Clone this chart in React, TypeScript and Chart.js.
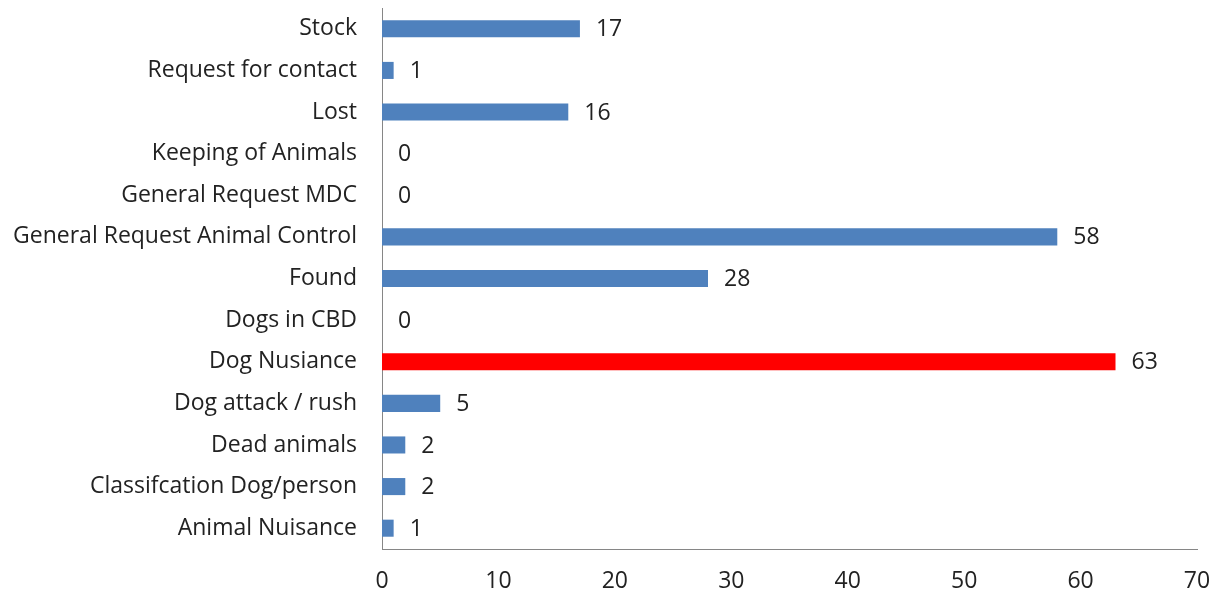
import React, { useEffect, useRef } from "react";
import { Chart, registerables } from "chart.js";

Chart.register(...registerables);

const categories = [
  "Stock",
  "Request for contact",
  "Lost",
  "Keeping of Animals",
  "General Request MDC",
  "General Request Animal Control",
  "Found",
  "Dogs in CBD",
  "Dog Nusiance",
  "Dog attack / rush",
  "Dead animals",
  "Classifcation Dog/person",
  "Animal Nuisance",
];
const values = [17, 1, 16, 0, 0, 58, 28, 0, 63, 5, 2, 2, 1];
const highlightCategory = "Dog Nusiance";
const xTicks = [0, 10, 20, 30, 40, 50, 60, 70];

const BLUE = "#4F81BD";
const RED = "#FF0000";
const FONT = "'Open Sans', sans-serif";
const FSIZE = 23;

const valueLabels = {
  id: "valueLabels",
  afterDatasetsDraw(chart: any) {
    const ctx = chart.ctx;
    const meta = chart.getDatasetMeta(0);
    ctx.save();
    ctx.font = `${FSIZE}px ${FONT}`;
    ctx.fillStyle = "#222";
    ctx.textAlign = "left";
    ctx.textBaseline = "middle";
    meta.data.forEach((bar: any, i: number) => {
      ctx.fillText(String(values[i]), bar.x + 16, bar.y + 1);
    });
    ctx.restore();
  },
};

export default function App() {
  const ref = useRef<HTMLCanvasElement>(null);
  useEffect(() => {
    if (!ref.current) return;
    const chart = new Chart(ref.current, {
      type: "bar",
      data: {
        labels: categories,
        datasets: [
          {
            data: values,
            backgroundColor: categories.map((c) => (c === highlightCategory ? RED : BLUE)),
            barPercentage: 0.82,
            categoryPercentage: 0.5,
          },
        ],
      },
      options: {
        indexAxis: "y",
        animation: false,
        responsive: false,
        layout: { padding: { top: 8, right: 23, left: 0, bottom: 0 } },
        plugins: { legend: { display: false }, tooltip: { enabled: false } },
        scales: {
          x: {
            min: 0,
            max: 70,
            afterBuildTicks: (axis: any) => {
              axis.ticks = xTicks.map((v) => ({ value: v }));
            },
            afterFit: (axis: any) => {
              axis.height = 50;
              axis.paddingLeft = 0;
              axis.paddingRight = 0;
            },
            grid: { display: false, drawTicks: false },
            border: { display: true, color: "#868686", width: 1 },
            ticks: { color: "#222", font: { family: FONT, size: FSIZE }, padding: 19 },
          },
          y: {
            afterFit: (axis: any) => {
              axis.width = 382;
              axis.paddingTop = 0;
              axis.paddingBottom = 0;
            },
            grid: { display: false, drawTicks: false },
            border: { display: true, color: "#868686", width: 1 },
            ticks: { color: "#222", font: { family: FONT, size: FSIZE }, padding: 25, autoSkip: false },
          },
        },
      },
      plugins: [valueLabels],
    });
    return () => chart.destroy();
  }, []);
  return (
    <canvas
      ref={ref}
      width={1220}
      height={599}
      style={{ position: "absolute", left: 0, top: 0, display: "block" }}
    />
  );
}
